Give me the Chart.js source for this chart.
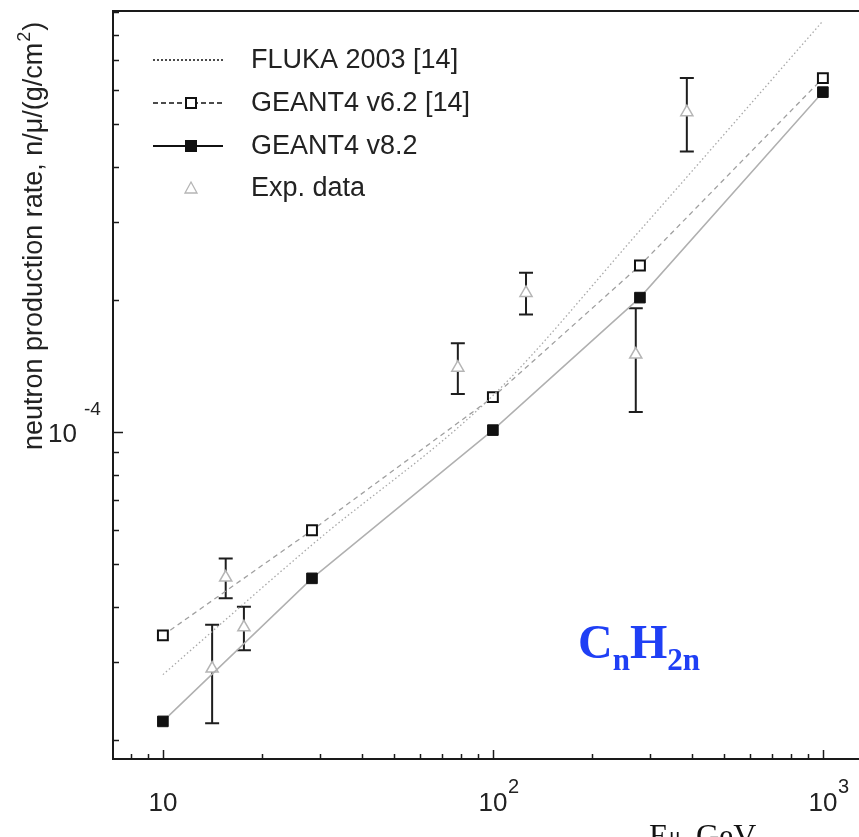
<!DOCTYPE html>
<html>
<head>
<meta charset="utf-8">
<script src="https://cdn.jsdelivr.net/npm/chart.js@4.4.0/dist/chart.umd.min.js"></script>
<style>
    html, body { margin: 0; padding: 0; background: #fff; overflow: hidden; }
    canvas { display: block; }
</style>
</head>
<body>
<canvas id="canvas" width="900" height="880"></canvas>
<script>
// muon energies of the simulation points, GeV
const simEnergies = [10, 28.3, 100, 279, 1000]
// neutron production rate, n/mu/(g/cm2)
const geant82 = [2.20e-5, 4.65e-5, 1.01e-4, 2.02e-4, 5.92e-4]
const geant62 = [3.45e-5, 5.98e-5, 1.20e-4, 2.39e-4, 6.37e-4]
const fluka = [2.81e-5, 5.54e-5, 1.21e-4, 2.87e-4, 8.59e-4]

// experimental points with their error bars
const expEnergies = [14.1, 15.5, 17.6, 78.3, 126, 271, 387]
const expRate = [2.90e-5, 4.67e-5, 3.60e-5, 1.40e-4, 2.07e-4, 1.50e-4, 5.33e-4]
const expLow = [2.18e-5, 4.19e-5, 3.19e-5, 1.22e-4, 1.85e-4, 1.11e-4, 4.34e-4]
const expHigh = [3.65e-5, 5.16e-5, 4.01e-5, 1.59e-4, 2.30e-4, 1.91e-4, 6.37e-4]

// tick labels (base and exponent)
const xTickValues = [10, 100, 1000]
const xTickExp = ["", "2", "3"]
const yTickValues = [1e-4]
const yTickExp = ["-4"]

const legendNames = ["FLUKA 2003 [14]", "GEANT4 v6.2 [14]", "GEANT4 v8.2", "Exp. data"]

const toPoints = (xs, ys) => xs.map((x, i) => ({ x: x, y: ys[i] }))

const sans = "'Liberation Sans', Arial, Helvetica, sans-serif"
const serif = "'Liberation Serif', 'Times New Roman', serif"

// error bars go under the triangles
const errorBars = {
    id: "errorBars",
    beforeDatasetsDraw(chart) {
        const { ctx, scales: { x, y } } = chart
        ctx.save()
        ctx.strokeStyle = "#1e1e1e"
        ctx.lineWidth = 2
        expEnergies.forEach((e, i) => {
            const px = x.getPixelForValue(e)
            const top = y.getPixelForValue(expHigh[i])
            const bot = y.getPixelForValue(expLow[i])
            ctx.beginPath()
            ctx.moveTo(px, top); ctx.lineTo(px, bot)
            ctx.moveTo(px - 7, top); ctx.lineTo(px + 7, top)
            ctx.moveTo(px - 7, bot); ctx.lineTo(px + 7, bot)
            ctx.stroke()
        })
        ctx.restore()
    }
}

// frame, inward ticks, labels, legend and notes
const frame = {
    id: "frame",
    afterDraw(chart) {
        const { ctx, chartArea: a, scales: { x, y } } = chart
        ctx.save()
        ctx.strokeStyle = "#1a1a1a"
        ctx.lineWidth = 2
        ctx.strokeRect(a.left, a.top, a.right - a.left, a.bottom - a.top)

        // x ticks
        ctx.lineWidth = 1.5
        for (let d = 1; d <= 1000; d *= 10) {
            for (let m = 1; m <= 9; m++) {
                const v = m * d
                if (v < x.min || v > x.max) continue
                const px = Math.round(x.getPixelForValue(v)) + 0.5
                const len = m === 1 ? 9 : 5
                ctx.beginPath()
                ctx.moveTo(px, a.bottom)
                ctx.lineTo(px, a.bottom - len)
                ctx.stroke()
            }
        }
        // y ticks
        for (let d = 1e-5; d <= 1e-3; d *= 10) {
            for (let m = 1; m <= 9; m++) {
                const v = m * d
                if (v < y.min || v > y.max) continue
                const py = Math.round(y.getPixelForValue(v)) + 0.5
                const len = m === 1 ? 10 : 6
                ctx.beginPath()
                ctx.moveTo(a.left, py)
                ctx.lineTo(a.left + len, py)
                ctx.stroke()
            }
        }

        // x tick labels
        ctx.fillStyle = "#222"
        ctx.textBaseline = "alphabetic"
        xTickValues.forEach((v, i) => {
            const px = x.getPixelForValue(v)
            ctx.font = "26px " + sans
            ctx.textAlign = "center"
            ctx.fillText("10", px, 811)
            if (xTickExp[i]) {
                ctx.font = "20px " + sans
                ctx.textAlign = "left"
                ctx.fillText(xTickExp[i], px + 15, 793)
            }
        })
        // y tick labels
        yTickValues.forEach((v, i) => {
            const py = y.getPixelForValue(v)
            ctx.font = "26px " + sans
            ctx.textAlign = "right"
            ctx.fillText("10", 77, py + 10)
            ctx.font = "19px " + sans
            ctx.textAlign = "left"
            ctx.fillText(yTickExp[i], 84, py - 17)
        })

        // y axis title
        ctx.save()
        ctx.translate(42, 450)
        ctx.rotate(-Math.PI / 2)
        ctx.textAlign = "left"
        ctx.font = "27px " + sans
        const t1 = "neutron production rate, n/\u03bc/(g/cm"
        ctx.fillText(t1, 0, 0)
        const w1 = ctx.measureText(t1).width
        ctx.font = "18px " + sans
        ctx.fillText("2", w1 + 1, -12)
        const w2 = ctx.measureText("2").width
        ctx.font = "27px " + sans
        ctx.fillText(")", w1 + w2 + 2, 0)
        ctx.restore()

        // x axis title (cut by the bottom edge)
        ctx.fillStyle = "#111"
        ctx.font = "32px " + serif
        ctx.textAlign = "left"
        ctx.fillText("E", 649, 846)
        ctx.font = "22px " + serif
        ctx.fillText("\u03bc", 669, 842)
        ctx.font = "32px " + serif
        ctx.fillText(", GeV", 680, 846)

        // legend
        const rows = [60, 103, 146, 188]
        ctx.strokeStyle = "#111"
        ctx.fillStyle = "#111"
        ctx.lineWidth = 1.5
        ctx.setLineDash([2, 2])
        ctx.beginPath(); ctx.moveTo(153, rows[0]); ctx.lineTo(223, rows[0]); ctx.stroke()
        ctx.setLineDash([5, 3])
        ctx.beginPath(); ctx.moveTo(153, rows[1]); ctx.lineTo(223, rows[1]); ctx.stroke()
        ctx.setLineDash([])
        ctx.lineWidth = 2
        ctx.beginPath(); ctx.moveTo(153, rows[2]); ctx.lineTo(223, rows[2]); ctx.stroke()
        ctx.fillStyle = "#fff"
        ctx.fillRect(186, rows[1] - 5, 10, 10)
        ctx.strokeRect(186, rows[1] - 5, 10, 10)
        ctx.fillStyle = "#111"
        ctx.fillRect(185, rows[2] - 6, 12, 12)
        ctx.strokeStyle = "#b5b5b5"
        ctx.lineWidth = 1.3
        ctx.beginPath()
        ctx.moveTo(191, rows[3] - 6); ctx.lineTo(197, rows[3] + 5); ctx.lineTo(185, rows[3] + 5); ctx.closePath()
        ctx.stroke()
        ctx.fillStyle = "#222"
        ctx.font = "27px " + sans
        ctx.textBaseline = "middle"
        legendNames.forEach((n, i) => ctx.fillText(n, 251, rows[i] + 1))

        // material note
        ctx.fillStyle = "#1f3ff5"
        ctx.textBaseline = "alphabetic"
        let cx = 578
        const part = (txt, size, base) => {
            ctx.font = "bold " + size + "px " + serif
            ctx.fillText(txt, cx, base)
            cx += ctx.measureText(txt).width
        }
        part("C", 48, 658)
        part("n", 31, 670)
        part("H", 48, 658)
        part("2n", 31, 670)
        ctx.restore()
    }
}

const target = document.querySelector("#canvas")
new Chart(target, {
    type: "line",
    data: {
        datasets: [
            {
                label: legendNames[0],
                data: toPoints(simEnergies, fluka),
                borderColor: "#a8a8a8",
                borderWidth: 1.3,
                borderDash: [1.5, 2.5],
                cubicInterpolationMode: "monotone",
                pointRadius: 0
            },
            {
                label: legendNames[1],
                data: toPoints(simEnergies, geant62),
                borderColor: "#a0a0a0",
                borderWidth: 1.3,
                borderDash: [5, 4],
                tension: 0,
                pointStyle: "rect",
                pointRadius: 7,
                pointBorderWidth: 2,
                pointBorderColor: "#111",
                pointBackgroundColor: "#fff"
            },
            {
                label: legendNames[2],
                data: toPoints(simEnergies, geant82),
                borderColor: "#b0b0b0",
                borderWidth: 1.5,
                tension: 0,
                pointStyle: "rect",
                pointRadius: 7.5,
                pointBorderWidth: 1,
                pointBorderColor: "#111",
                pointBackgroundColor: "#111"
            },
            {
                label: legendNames[3],
                data: toPoints(expEnergies, expRate),
                showLine: false,
                pointStyle: "triangle",
                pointRadius: 7,
                pointBorderWidth: 1.5,
                pointBorderColor: "#b5b5b5",
                pointBackgroundColor: "#fff"
            }
        ]
    },
    options: {
        responsive: false,
        animation: false,
        events: [],
        layout: { padding: { left: 113, top: 11, right: 19, bottom: 121 } },
        plugins: { legend: { display: false }, tooltip: { enabled: false } },
        scales: {
            x: { type: "logarithmic", min: 7.06, max: 1500, display: false },
            y: { type: "logarithmic", min: 1.807e-5, max: 9.05e-4, display: false }
        }
    },
    plugins: [errorBars, frame]
})
</script>
</body>
</html>
